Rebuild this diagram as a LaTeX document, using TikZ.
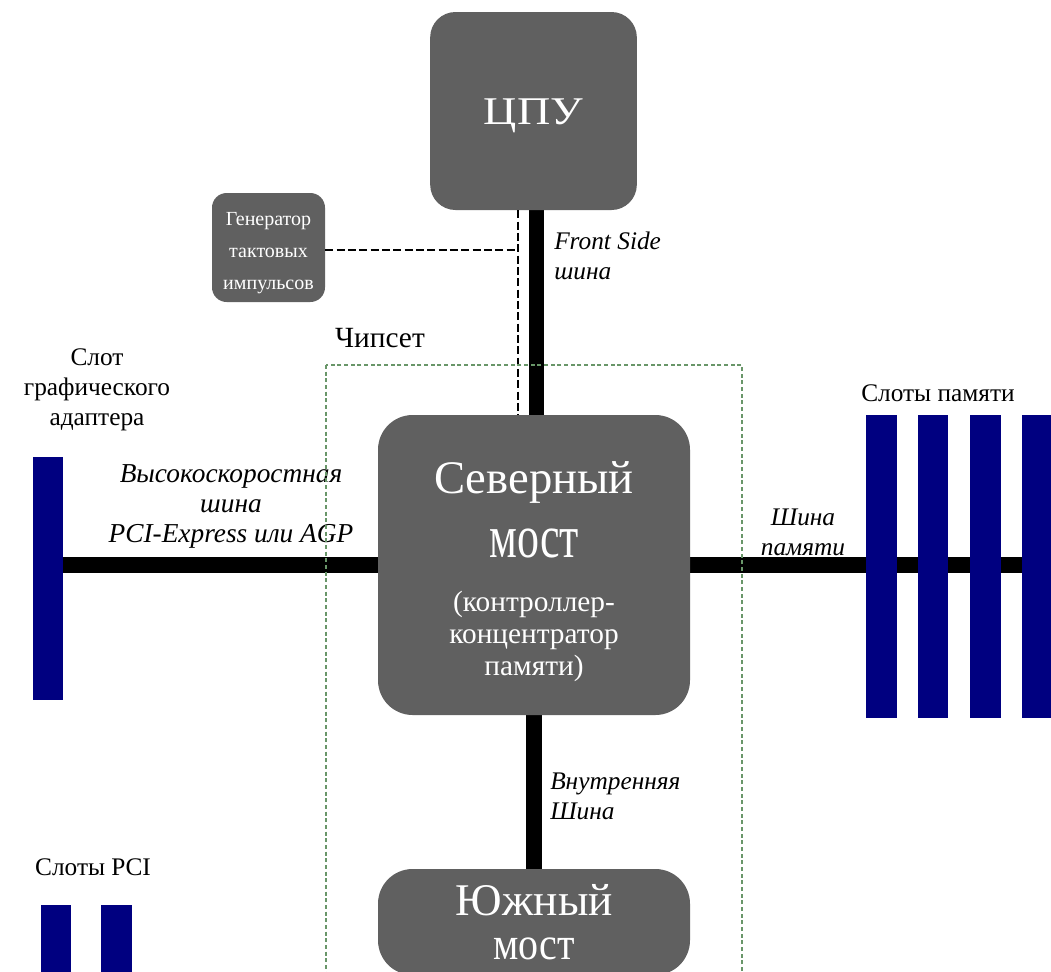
\documentclass[tikz,border=0pt]{standalone}
\usepackage{graphicx}
\usepackage{fontspec}
\setmainfont{Liberation Serif}
\usetikzlibrary{backgrounds}
\definecolor{chipgray}{RGB}{96,96,96}
\definecolor{slotblue}{RGB}{0,0,128}
\definecolor{setgreen}{RGB}{105,150,105}

\begin{document}
\begin{tikzpicture}[
    x=0.75pt,y=-0.75pt,
    chip/.style={fill=chipgray,rounded corners=19pt,text=white,align=center,inner sep=0pt},
    slot/.style={fill=slotblue,inner sep=0pt,minimum width=23pt},
    bus/.style={line width=11.5pt},
    tapline/.style={line width=1.8pt,dash pattern=on 6pt off 2.5pt},
    chipset/.style={draw=setgreen,line width=0.9pt,dash pattern=on 3pt off 2pt},
    lbl/.style={font=\fontsize{19}{22.5}\selectfont,align=center,inner sep=0pt},
    buslbl/.style={font=\fontsize{19}{22.5}\selectfont\itshape,inner sep=0pt}
]
\useasboundingbox (0,0) rectangle (1051,972);
\clip (0,0) rectangle (1051,972);

% chips
\node[chip,minimum width=155pt,minimum height=148.5pt,
      font=\fontsize{32}{36}\selectfont] (cpu) at (533.5,111)
      {\rule{0pt}{26pt}\scalebox{1.08}[0.92]{ЦПУ}};
\node[chip,rounded corners=11pt,minimum width=84.75pt,minimum height=81.75pt,
      font=\fontsize{15}{24}\selectfont] (clk) at (268.5,247.5)
      {\rule{0pt}{18pt}Генератор\\тактовых\\импульсов};
\node[chip,rounded corners=26pt,minimum width=234pt,minimum height=225pt,
      font=\fontsize{22}{24}\selectfont] (nb) at (534,565)
      {\rule{0pt}{34pt}{\fontsize{35}{40}\selectfont Северный}\\[18pt]
       {\fontsize{33}{34}\selectfont\scalebox{1}[1.38]{мост}}\\[16pt]
       (контроллер-\\концентратор\\памяти)};
\node[chip,rounded corners=26pt,minimum width=234pt,minimum height=79.5pt,
      font=\fontsize{30}{24}\selectfont] (sb) at (534,922)
      {{\fontsize{34}{40}\selectfont Южный}\\[9pt]\scalebox{1}[1.15]{мост}};

% slots
\node[slot,minimum height=182.25pt] (gslot) at (48,578.5) {};
\foreach \i/\x in {1/881.5,2/933,3/985.5,4/1037.5}
  \node[slot,minimum height=227pt] (mem\i) at (\x,566.5) {};
\node[slot,minimum height=75pt] (pci1) at (56,955) {};
\node[slot,minimum height=75pt] (pci2) at (116.5,955) {};

% buses
\begin{scope}[on background layer]
  \draw[bus] ([xshift=2pt]cpu.south) -- ([xshift=2pt]cpu.south |- nb.north);
  \draw[bus] (nb) -- (sb);
  \draw[bus] (nb) -- (nb -| gslot);
  \draw[bus] (nb) -- (nb -| mem4.east);
\end{scope}

% clock line
\coordinate (tap) at (518,415);
\draw[tapline,line width=1.4pt] (tap |- cpu.south) -- (tap);
\draw[tapline] ([yshift=-2pt]clk.east) -- ([yshift=-2pt]clk.east -| tap);

% labels
\node[lbl] (lblgraph) at (97,390) {Слот\\графического\\адаптера};
\node[lbl] (lblmem) at (938,393) {Слоты памяти};
\node[lbl] (lblpci) at (93,867) {Слоты PCI};
\node[lbl,font=\fontsize{22}{24}\selectfont] (lblchipset) at (380,338) {Чипсет};
\node[buslbl,align=center,font=\fontsize{20.5}{22.5}\selectfont\itshape] (lblagp) at (231,506)
      {Высокоскоростная\\шина\\PCI-Express или AGP};
\node[buslbl,align=left,anchor=west] (lblfsb) at (554,256) {Front Side\\шина};
\node[buslbl,align=center] (lblmembus) at (803,532) {Шина\\памяти};
\node[buslbl,align=left,anchor=west] (lblint) at (550,796) {Внутренняя\\Шина};

% chipset frame
\draw[chipset] (326,365) rectangle (742,1000);
\end{tikzpicture}
\end{document}
